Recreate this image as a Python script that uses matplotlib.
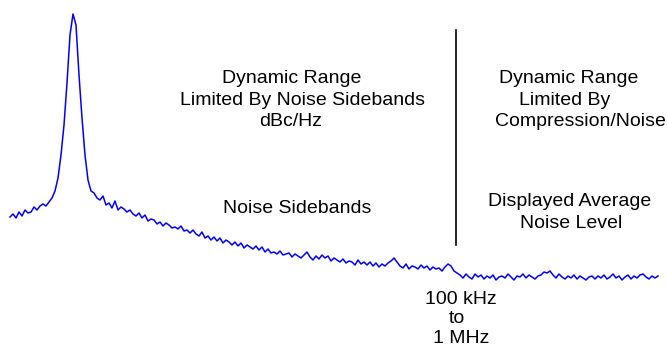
import numpy as np
import matplotlib
matplotlib.use("Agg")
import matplotlib.pyplot as plt

# trace: one reading every 3 px, starting at x=10
x_start = 10
x_step = 3
trace = [
    217, 214, 218, 212, 216, 210, 213, 212, 207, 210, 206, 204, 206, 202, 198,
    191, 178, 155, 125, 83, 35, 14, 25, 75, 118, 155, 180, 191, 193, 198,
    200, 196, 205, 203, 208, 201, 210, 207, 209, 212, 210, 214, 216, 213, 218,
    215, 221, 219, 220, 224, 222, 226, 223, 225, 228, 227, 229, 226, 231, 230,
    233, 230, 234, 236, 232, 238, 236, 240, 237, 241, 238, 243, 240, 242, 245,
    242, 246, 243, 248, 245, 247, 249, 246, 250, 247, 252, 249, 253, 252, 254,
    251, 255, 254, 253, 257, 254, 256, 258, 255, 252, 257, 260, 256, 259, 255,
    258, 256, 261, 258, 260, 262, 259, 263, 261, 262, 265, 260, 264, 262, 265,
    262, 266, 263, 267, 264, 266, 263, 261, 258, 262, 266, 268, 264, 269, 266,
    267, 269, 265, 268, 266, 270, 267, 269, 268, 271, 267, 264, 266, 271, 273,
    275, 278, 274, 277, 279, 274, 277, 275, 279, 276, 278, 275, 280, 277, 276,
    278, 274, 277, 280, 276, 277, 274, 278, 275, 277, 279, 276, 275, 272, 273,
    271, 275, 278, 274, 277, 279, 276, 278, 275, 279, 276, 278, 280, 277, 276,
    279, 276, 278, 275, 279, 277, 274, 278, 276, 280, 277, 275, 279, 276, 278,
    275, 274, 277, 279, 276, 278, 276,
]
freq = x_start + x_step * np.arange(len(trace))

# annotation lines: (text, centre x, baseline y)
labels = [
    ("Dynamic Range", 292, 83),
    ("Limited By Noise Sidebands", 303, 105),
    ("dBc/Hz", 291, 126),
    ("Dynamic Range", 569, 83),
    ("Limited By", 565, 105),
    ("Compression/Noise", 580, 126),
    ("Noise Sidebands", 297, 213),
    ("Displayed Average", 570, 206),
    ("Noise Level", 571, 228),
    ("100 kHz", 461, 304),
    ("to", 457, 323),
    ("1 MHz", 461, 343),
]

fig = plt.figure(figsize=(6.67, 3.46), dpi=100)
ax = fig.add_axes([0, 0, 1, 1])
ax.set_xlim(0, 667)
ax.set_ylim(346, 0)
ax.axis('off')

ax.plot(freq, trace, color='#0000ff', linewidth=1.1)

# border between the two regions
ax.plot([456, 456], [30, 245], color='black', linewidth=1.2)

for txt, x, y in labels:
    ax.text(x, y, txt, family='Liberation Sans', fontsize=14, color='black',
            ha='center', va='baseline')

fig.savefig("out.png", dpi=100)
